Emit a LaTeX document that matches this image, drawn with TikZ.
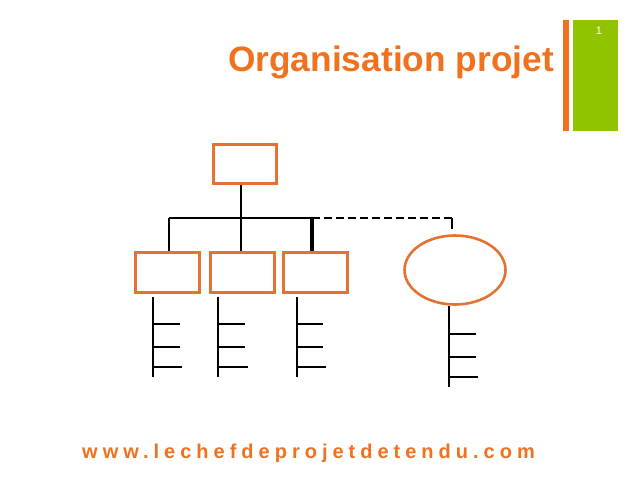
\documentclass[tikz,border=0pt]{standalone}
\usepackage{fontspec}
\setmainfont{Liberation Sans}
\usetikzlibrary{shapes.geometric}
\definecolor{orgtxt}{RGB}{240,113,30}
\definecolor{orgbox}{RGB}{228,115,50}
\definecolor{barg}{RGB}{145,195,0}
\begin{document}
\begin{tikzpicture}[x=1pt,y=-1pt,
  orgrect/.style={draw=orgbox,line width=3pt,rectangle,minimum width=64pt,minimum height=40pt,inner sep=0pt},
  orgell/.style={draw=orgbox,line width=2.6pt,ellipse,minimum width=101pt,minimum height=69pt,inner sep=0pt},
  link/.style={draw=black,line width=2.4pt},
  rake/.style={draw=black,line width=2.4pt}]
\useasboundingbox (0,0) rectangle (638,479);
% side bars
\fill[orgtxt] (563,20) rectangle (569,131);
\fill[barg] (573,20) rectangle (618,131);
\node[text=white,font=\fontsize{11}{13}\selectfont] (num) at (599,31) {1};
% title
\node[anchor=base east,text=orgtxt,inner sep=0pt,font=\fontsize{35.3}{40}\selectfont\bfseries] (title) at (554,71) {Organisation projet};
% boxes
\node[orgrect,minimum width=63pt,minimum height=39pt] (top) at (245,163.5) {};
\node[orgrect] (b1) at (167.5,272.5) {};
\node[orgrect] (b2) at (242.5,272.5) {};
\node[orgrect] (b3) at (315.5,272.5) {};
\node[orgell] (el) at (455,270) {};
% connectors
\coordinate (j) at (241,218);
\coordinate (h1) at (169,218);
\coordinate (h3) at (312,218);
\coordinate (h4) at (452,218);
\coordinate (h4e) at (452,229);
\draw[link] (top.south -| j) -- (j);
\draw[link] (h1) -- (h3);
\draw[link,dash pattern=on 8pt off 4pt] (h3) -- (h4);
\draw[link] (h4) -- (h4e);
\draw[link] (h1) -- (b1.north -| h1);
\draw[link] (j) -- (b2.north -| j);
\draw[link,line width=3.5pt] (h3) -- (b3.north -| h3);
% rakes
\foreach \n/\x/\ta/\tb in {1/153/180/182,2/218/245/248,3/297/323/326}{
  \coordinate (r\n t) at (\x,297);
  \coordinate (r\n b) at (\x,377);
  \draw[rake] (r\n t) -- (r\n b);
  \draw[rake] (\x,324) -- (\ta,324);
  \draw[rake] (\x,347) -- (\ta,347);
  \draw[rake] (\x,367) -- (\tb,367);
}
\coordinate (r4b) at (449,387);
\draw[rake] (el.south -| r4b) -- (r4b);
\draw[rake] (449,334) -- (476,334);
\draw[rake] (449,357) -- (476,357);
\draw[rake] (449,377) -- (478,377);
% footer
\node[anchor=base west,text=orgtxt,inner sep=0pt,font=\fontsize{20}{24}\selectfont\bfseries\addfontfeature{LetterSpace=25}] (url) at (82,458) {www.lechefdeprojetdetendu.com};
\end{tikzpicture}
\end{document}
